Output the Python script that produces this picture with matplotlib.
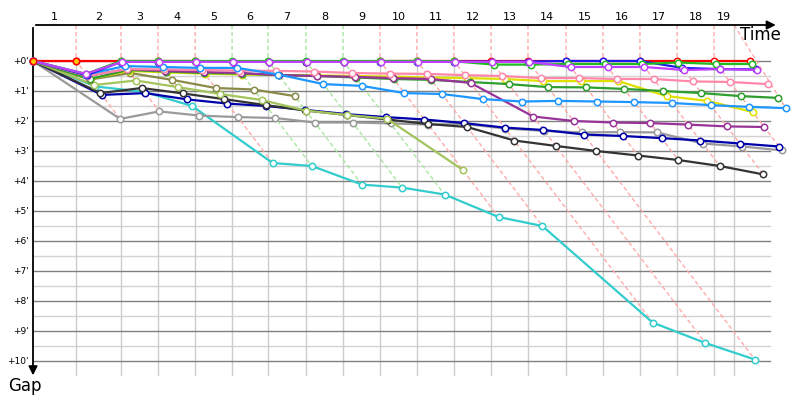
# gap chart: each driver's gap to the leader at every lap
# x = race time (min), y = gap (min), so a driver's point sits at leader_time + gap

import matplotlib.pyplot as plt

# when the leader crossed the line, lap 0..19 (minutes)
lap_times = [0, 1.89, 3.86, 5.48, 7.11, 8.73, 10.31, 11.97, 13.60, 15.22, 16.84,
             18.46, 20.09, 21.71, 23.38, 25.00, 26.62, 28.25, 29.87, 31.45]
t_end = 30.75          # last grid line on the time axis
lap_labels = [str(i) for i in range(1, 20)]
# who led each lap 1..19 (colours the dashed lap lines)
lap_leader = ["red"]*4 + ["green"]*4 + ["red"]*11

# gaps in minutes, index = lap
gap_red = [0, 0, 0, 0, 0, 0.02, 0.02, 0.02, 0.02, 0, 0, 0, 0, 0, 0, 0, 0, 0, 0, 0]
gap_green = [0, 0.43, 0, 0, 0, 0, 0, 0, 0, 0, 0, 0.01, 0.12, 0.12,
             0.1, 0.1, 0.1, 0.05, 0.1, 0.1]
gap_violet = [0, 0.43, 0.03, 0.03, 0.03, 0.03, 0.03, 0.03, 0.03, 0.03, 0.03, 0.03,
              0.03, 0.03, 0.2, 0.2, 0.2, 0.3, 0.27, 0.3]
gap_blue = [0, 0.47, 0.02, 0.02, 0.02, 0.02, 0.02, 0.02, 0.02, 0.02, 0.02, 0.02,
            0.02, 0.02, 0, 0, 0, 0.23, 0.27, 0.28]
gap_sky = [0, 0.45, 0.17, 0.2, 0.23, 0.23, 0.45, 0.77, 0.83, 1.07, 1.1, 1.27, 1.35,
           1.33, 1.35, 1.37, 1.4, 1.47, 1.53, 1.57]
gap_pink = [0, 0.5, 0.27, 0.28, 0.3, 0.32, 0.33, 0.35, 0.4, 0.42, 0.43, 0.47, 0.5,
            0.57, 0.57, 0.6, 0.6, 0.68, 0.7, 0.77]
gap_purple = [0, 0.5, 0.27, 0.33, 0.37, 0.4, 0.47, 0.5, 0.53, 0.57, 0.6, 0.73, 1.85,
              2.0, 2.05, 2.07, 2.12, 2.18, 2.2]
gap_dkgreen = [0, 0.6, 0.3, 0.35, 0.4, 0.42, 0.47, 0.5, 0.55, 0.6, 0.63, 0.7, 0.77,
               0.87, 0.88, 0.93, 1.0, 1.07, 1.17, 1.23]
gap_yellow = [0, 0.6, 0.33, 0.38, 0.42, 0.45, 0.47, 0.48, 0.5, 0.52, 0.55, 0.57, 0.6,
              0.67, 0.67, 0.67, 1.17, 1.33, 1.7]
gap_olive = [0, 0.62, 0.4, 0.63, 0.9, 0.95, 1.17]
gap_ygreen = [0, 0.8, 0.65, 0.87, 1.1, 1.3, 1.65, 1.8, 1.92, 3.63]
gap_black = [0, 1.07, 0.9, 1.08, 1.27, 1.47, 1.65, 1.8, 1.95, 2.1, 2.2, 2.65, 2.83,
             3.0, 3.15, 3.3, 3.5, 3.78]
gap_navy = [0, 1.13, 1.07, 1.28, 1.42, 1.5, 1.63, 1.77, 1.87, 1.95, 2.07, 2.22, 2.3,
            2.45, 2.5, 2.57, 2.65, 2.75, 2.85]
gap_grey = [0, 1.93, 1.68, 1.82, 1.87, 1.9, 2.05, 2.05, 2.08, 2.12, 2.1, 2.25, 2.33,
            2.38, 2.37, 2.38, 2.75, 2.85, 2.98]
gap_turq = [0, 0.85, 1.03, 1.5, 3.4, 3.5, 4.12, 4.22, 4.45, 5.2, 5.5, 8.72, 9.4, 9.95]

# draw order, bottom first
drivers = [
    (gap_turq, "#33cccc"),
    (gap_grey, "#9a9a9a"),
    (gap_navy, "#0000aa"),
    (gap_black, "#333333"),
    (gap_ygreen, "#a3c45c"),
    (gap_olive, "#8a8a48"),
    (gap_yellow, "#e0e000"),
    (gap_dkgreen, "#2e9e2e"),
    (gap_purple, "#993399"),
    (gap_pink, "#ff88aa"),
    (gap_sky, "#1e96ff"),
    (gap_red, "#ff0000"),
    (gap_blue, "#1a1aee"),
    (gap_green, "#22bb22"),
    (gap_violet, "#c040ff"),
]

# pixel scale of the original: 22.8 px per minute across, 30 px per minute down, origin at (33, 61)
fig = plt.figure(figsize=(8, 4), dpi=100)
ax = fig.add_axes([0, 0, 1, 1])
ax.set_xlim(-33/22.8, 767/22.8)
ax.set_ylim(339/30, -61/30)
ax.axis("off")

top = -1.2
bottom = 10.47
right = 32.32

# horizontal grid
for g in range(11):
    ax.plot([0, right], [g, g], color="#808080", lw=1.0, zorder=1)
    if g < 10:
        ax.plot([0, right], [g+0.5, g+0.5], color="#d2d2d2", lw=1.0, zorder=0.9)
    ax.text(-0.2, g, "+%d'" % g, ha="right", va="center", fontsize=6.5)

# vertical grid at the leader's laps
for t in lap_times[1:-1]:
    ax.plot([t, t], [0, bottom], color="#cccccc", lw=1.0, zorder=0.9)
ax.plot([t_end, t_end], [top, bottom], color="#cccccc", lw=1.0, zorder=0.9)

# lap numbers across the top
edges = lap_times[:-1] + [t_end]
for i, lab in enumerate(lap_labels):
    ax.text((edges[i] + edges[i+1]) / 2, -1.47, lab, ha="center", va="center", fontsize=8)

# dashed lap lines: straight down to the leader, then slanting to the last car on that lap
lead_cols = {"red": "#ffaaaa", "green": "#a8e6a0"}
for lap in range(1, len(lap_times)):
    gaps_this_lap = [d[0][lap] for d in drivers if len(d[0]) > lap]
    m = max(gaps_this_lap)
    t = lap_times[lap]
    c = lead_cols[lap_leader[lap-1]]
    if lap < len(lap_times) - 1:
        ax.plot([t, t, t+m], [top, 0, m], color=c, lw=1.0, ls=(0, (3, 2)), zorder=1.5)
    else:
        # last lap: leader is past the end line, so it comes in from the top corner
        ax.plot([t_end, t+m], [top, m], color=c, lw=1.0, ls=(0, (3, 2)), zorder=1.5)

# the drivers
for k, (gaps, col) in enumerate(drivers):
    xs = [lap_times[i] + g for i, g in enumerate(gaps)]
    ax.plot(xs, gaps, "-o", color=col, lw=1.6, ms=4.6, mfc="white", mec=col,
            mew=1.1, zorder=3+k*0.01)
# leader's marker at the start and lap 1 is filled
ax.plot([lap_times[0] + gap_red[0], lap_times[1] + gap_red[1]], gap_red[:2], "o",
        ms=4.6, mfc="#ffcc00", mec="#ff0000", mew=1.1, zorder=4)

# axes with arrows
ax.annotate("", xy=(32.7, top), xytext=(0, top),
            arrowprops=dict(arrowstyle="-|>", color="black", lw=1.3, mutation_scale=13))
ax.annotate("", xy=(0, 10.57), xytext=(0, top),
            arrowprops=dict(arrowstyle="-|>", color="black", lw=1.3, mutation_scale=13))
ax.text(31.9, -0.87, "Time", ha="center", va="center", fontsize=12)
ax.text(-0.35, 10.83, "Gap", ha="center", va="center", fontsize=12)

plt.savefig("out.png", dpi=100)
